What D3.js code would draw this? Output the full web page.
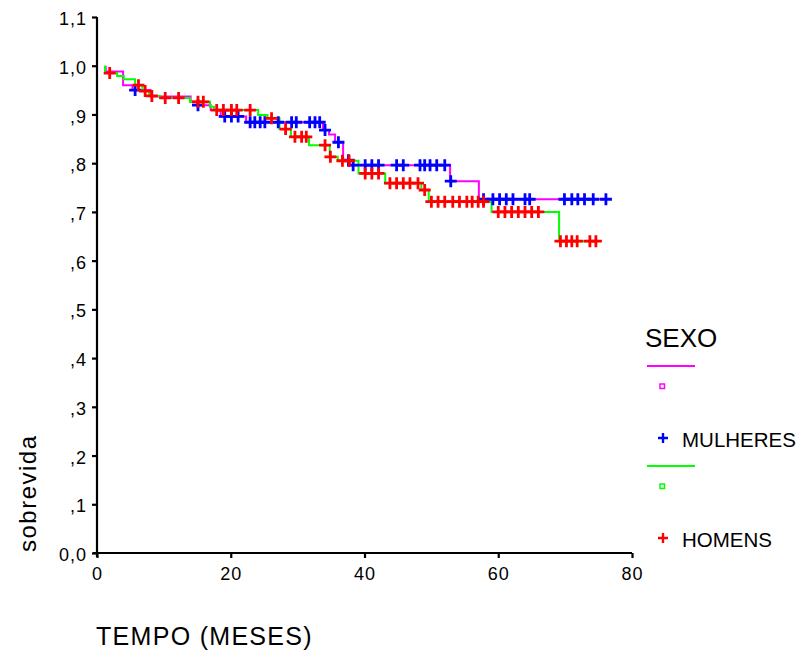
<!DOCTYPE html>
<html>
<head>
<meta charset="utf-8">
<script src="https://cdn.jsdelivr.net/npm/d3@7/dist/d3.min.js"></script>
<style>
  html, body { margin: 0; padding: 0; background: #fff; }
  svg { display: block; font-family: Arial, "Liberation Sans", sans-serif; }
</style>
</head>
<body>
<svg id="chart" width="799" height="656"></svg>
<script>
// Kaplan-Meier survival by sex: event times (months) and survival after each event
const mulheresTimes = [1.3, 3.9, 5.3, 8.0, 14.0, 15.0, 17.0, 18.5, 22.3, 33.8, 34.7, 35.6, 36.8, 37.8, 52.8, 57.1];
const mulheresSurv  = [0.988, 0.960, 0.950, 0.937, 0.926, 0.919, 0.909, 0.896, 0.884, 0.868, 0.859, 0.843, 0.806, 0.796, 0.763, 0.726];
const mulheresEnd = 76.1;
const mulheresCensored = [5.7, 15.1, 19.1, 20.1, 21.1, 22.9, 23.6, 24.4, 25.1, 27.1, 29.1, 29.8, 31.8, 32.6, 33.3,
  34.1, 36.1, 37.6, 38.3, 40.1, 41.1, 42.1, 44.8, 45.8, 48.3, 49.0, 49.8, 50.8, 52.0, 52.9,
  57.8, 59.2, 60.2, 61.2, 62.2, 64.0, 64.7, 69.9, 71.0, 71.9, 72.9, 74.2, 76.1];

const homensTimes = [1.2, 3.0, 4.0, 5.7, 6.8, 7.8, 9.5, 13.9, 16.9, 17.5, 24.1, 25.5, 27.3, 29.0, 31.7, 34.8, 36.0, 39.1, 43.1, 48.5, 49.6, 59.0, 69.1];
const homensSurv  = [0.985, 0.979, 0.972, 0.960, 0.948, 0.938, 0.934, 0.926, 0.916, 0.909, 0.899, 0.892, 0.870, 0.854, 0.837, 0.813, 0.805, 0.779, 0.759, 0.745, 0.721, 0.700, 0.640];
const homensEnd = 75.0;
const homensCensored = [1.9, 6.2, 7.2, 8.2, 10.2, 12.2, 15.1, 15.9, 17.9, 18.9, 20.1, 20.9, 22.9, 26.1, 28.2, 29.6, 30.6, 31.3,
  34.1, 34.9, 36.7, 37.7, 40.1, 41.1, 42.1, 43.8, 44.8, 45.8, 46.8, 48.0, 49.0, 50.0, 51.0, 52.0, 53.2, 54.2, 55.3, 56.1, 57.0, 57.8,
  60.0, 61.0, 62.0, 63.0, 64.0, 65.0, 66.0, 69.3, 70.2, 71.0, 71.8, 73.7, 74.6];

const xTicks = [0, 20, 40, 60, 80];
const yTicks = [0, 0.1, 0.2, 0.3, 0.4, 0.5, 0.6, 0.7, 0.8, 0.9, 1.0, 1.1];
const yTickLabels = ["0,0", ",1", ",2", ",3", ",4", ",5", ",6", ",7", ",8", ",9", "1,0", "1,1"];

const legendTitle = "SEXO";
const groupNames = ["MULHERES", "HOMENS"];
const lineColors = ["#ff00ff", "#00ff00"];
const markColors = ["#0000ff", "#ff0000"];

const svg = d3.select("#chart");
const x = d3.scaleLinear().domain([0, 80]).range([97, 632]);
const y = d3.scaleLinear().domain([0, 1.1]).range([553, 17]);

function survivalAt(times, surv, t) {
  const i = d3.bisectRight(times, t) - 1;
  return i < 0 ? 1.0 : surv[i];
}
function stepPoints(times, surv, end) {
  const pts = [[times[0], 1.0]];
  times.forEach((t, i) => pts.push([t, surv[i]]));
  pts.push([end, surv[surv.length - 1]]);
  return pts;
}

const line = d3.line().x(d => x(d[0])).y(d => y(d[1])).curve(d3.curveStepAfter);
const groups = [
  { times: mulheresTimes, surv: mulheresSurv, end: mulheresEnd, cens: mulheresCensored },
  { times: homensTimes, surv: homensSurv, end: homensEnd, cens: homensCensored }
];

// Axes
const xAxis = svg.append("g").attr("transform", "translate(0,553)")
  .call(d3.axisBottom(x).tickValues(xTicks).tickSize(5).tickSizeOuter(0).tickFormat(d3.format("d")));
xAxis.select(".domain").attr("d", "M93,0H632").attr("stroke", "#000").attr("stroke-width", 2.2);
xAxis.selectAll(".tick line").attr("stroke", "#000").attr("stroke-width", 2.2);
xAxis.selectAll(".tick text").attr("y", 14).attr("font-size", 18).attr("fill", "#000")
  .attr("font-family", "Arial, 'Liberation Sans', sans-serif").style("letter-spacing", "1px");

const yAxis = svg.append("g").attr("transform", "translate(97,0)")
  .call(d3.axisLeft(y).tickValues(yTicks).tickSize(5).tickSizeOuter(0).tickFormat((d, i) => yTickLabels[i]));
yAxis.select(".domain").attr("d", "M0,17V557").attr("stroke", "#000").attr("stroke-width", 2.2);
yAxis.selectAll(".tick line").attr("stroke", "#000").attr("stroke-width", 2.2);
yAxis.selectAll(".tick text").attr("x", -10).attr("dy", "0.42em").attr("font-size", 18).attr("fill", "#000")
  .attr("font-family", "Arial, 'Liberation Sans', sans-serif").style("letter-spacing", "1px");

// Survival step lines
groups.forEach((g, k) => {
  svg.append("path")
    .datum(stepPoints(g.times, g.surv, g.end))
    .attr("d", line)
    .attr("fill", "none")
    .attr("stroke", lineColors[k])
    .attr("stroke-width", 2);
});

// Censor marks
const plus = s => `M${-s},0H${s}M0,${-s}V${s}`;
groups.forEach((g, k) => {
  svg.append("g").selectAll("path")
    .data(g.cens)
    .join("path")
    .attr("transform", t => `translate(${x(t)},${y(survivalAt(g.times, g.surv, t))})`)
    .attr("d", plus(6))
    .attr("stroke", markColors[k])
    .attr("stroke-width", 2.8)
    .attr("fill", "none");
});

// Axis titles
svg.append("text").attr("x", 96).attr("y", 645).attr("font-size", 25)
  .style("letter-spacing", "1.3px").text("TEMPO (MESES)");
svg.append("text").attr("transform", "translate(36,552) rotate(-90)").attr("font-size", 24)
  .style("letter-spacing", "1.5px").text("sobrevida");

// Legend
const lg = svg.append("g");
lg.append("text").attr("x", 645).attr("y", 347).attr("font-size", 26).text(legendTitle);
const rowY = [366, 466];
groups.forEach((g, k) => {
  const y0 = rowY[k];
  lg.append("line").attr("x1", 647).attr("x2", 695).attr("y1", y0).attr("y2", y0)
    .attr("stroke", lineColors[k]).attr("stroke-width", 2);
  lg.append("rect").attr("x", 660).attr("y", y0 + 18).attr("width", 4.5).attr("height", 4.5)
    .attr("fill", "#fff").attr("stroke", lineColors[k]).attr("stroke-width", 1.5);
  lg.append("path").attr("transform", `translate(663,${y0 + 72})`).attr("d", plus(5))
    .attr("stroke", markColors[k]).attr("stroke-width", 2.4);
  lg.append("text").attr("x", 682).attr("y", y0 + 81).attr("font-size", 20.5).text(groupNames[k]);
});
</script>
</body>
</html>
